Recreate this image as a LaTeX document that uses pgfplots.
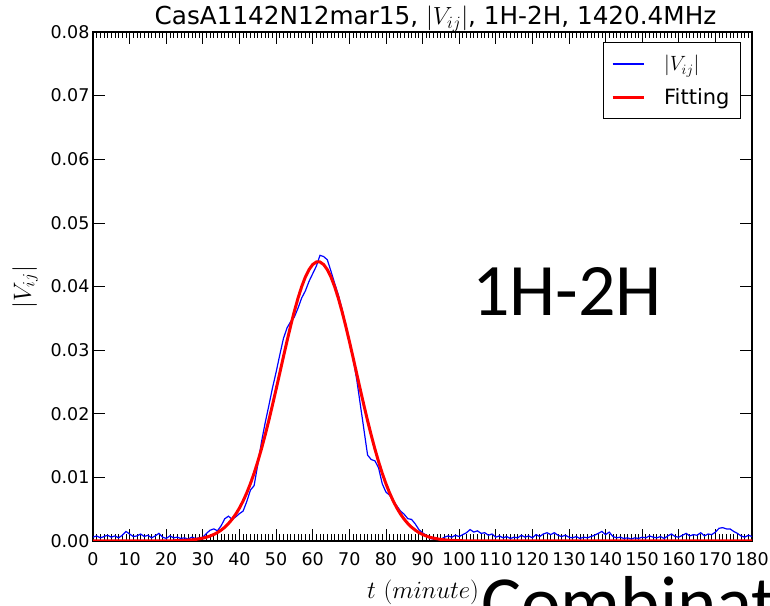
\documentclass[border=0pt]{standalone}
\usepackage{pgfplots}
\pgfplotsset{compat=1.18}
\usepackage{fontspec}
\setmainfont{DejaVu Sans}
\newfontfamily\calibri{Carlito}
\begin{document}
\begin{tikzpicture}[x=1bp,y=1bp]
\useasboundingbox (0,0) rectangle (770,606);
\clip (0,0) rectangle (770,606);
\begin{axis}[
  at={(93bp,65bp)}, anchor=south west,
  scale only axis, width=659bp, height=509bp,
  xmin=0, xmax=180, ymin=0, ymax=0.08,
  xtick={0,10,...,180}, ytick={0,0.01,...,0.08},
  minor x tick num=9,
  scaled y ticks=false,
  tick align=inside,
  major tick length=12bp, minor tick length=6.5bp,
  every tick/.style={black, line width=0.7bp},
  axis line style={black, line width=1.3bp},
  /pgf/number format/assume math mode=true,
  tick label style={font=\fontsize{17.5bp}{20bp}\selectfont},
  yticklabel style={/pgf/number format/.cd, fixed, fixed zerofill, precision=2},
  xticklabel style={yshift=-8bp, /pgf/number format/.cd, fixed, precision=0},
  legend style={at={(rel axis cs:1,1)}, anchor=north east, xshift=-11bp, yshift=-10bp,
    draw=black, line width=1bp, font=\fontsize{21bp}{25bp}\selectfont,
    inner xsep=8bp, inner ysep=10bp, row sep=10bp, column sep=16bp,
    nodes={inner sep=3bp}, cells={anchor=west}},
  legend image code/.code={\draw[#1] (0bp,0bp) -- (31bp,0bp);},
]
\addplot[blue, line width=1.2bp] table {
x y
0 0.0006
1 0.0008
2 0.0005
3 0.0007
4 0.0009
5 0.0006
6 0.0008
7 0.0005
8 0.0009
9 0.0015
10 0.0011
11 0.0007
12 0.0008
13 0.0011
14 0.0007
15 0.0009
16 0.0005
17 0.0008
18 0.0012
19 0.0006
20 0.0004
21 0.0008
22 0.0005
23 0.0006
24 0.0004
25 0.0005
26 0.0003
27 0.0006
28 0.0004
29 0.0005
30 0.0006
31 0.0012
32 0.0017
33 0.0019
34 0.0016
35 0.0024
36 0.0035
37 0.0039
38 0.0034
39 0.0038
40 0.0043
41 0.0047
42 0.0062
43 0.0080
44 0.0087
45 0.0120
46 0.0155
47 0.0185
48 0.0212
49 0.0240
50 0.0265
51 0.0292
52 0.0318
53 0.0335
54 0.0345
55 0.0352
56 0.0366
57 0.0382
58 0.0393
59 0.0408
60 0.0420
61 0.0432
62 0.0449
63 0.0447
64 0.0442
65 0.0424
66 0.0405
67 0.0387
68 0.0365
69 0.0340
70 0.0315
71 0.0288
72 0.0255
73 0.0215
74 0.0175
75 0.0135
76 0.0128
77 0.0126
78 0.0115
79 0.0090
80 0.0077
81 0.0072
82 0.0063
83 0.0055
84 0.0047
85 0.0042
86 0.0035
87 0.0034
88 0.0027
89 0.0018
90 0.0013
91 0.0009
92 0.0004
93 0.0003
94 0.0004
95 0.0003
96 0.0006
97 0.0008
98 0.0006
99 0.0009
100 0.0007
101 0.0010
102 0.0013
103 0.0018
104 0.0014
105 0.0016
106 0.0012
107 0.0013
108 0.0009
109 0.0011
110 0.0006
111 0.0008
112 0.0005
113 0.0007
114 0.0004
115 0.0006
116 0.0005
117 0.0009
118 0.0006
119 0.0008
120 0.0005
121 0.0010
122 0.0007
123 0.0011
124 0.0013
125 0.0010
126 0.0013
127 0.0009
128 0.0007
129 0.0009
130 0.0006
131 0.0005
132 0.0007
133 0.0004
134 0.0006
135 0.0005
136 0.0007
137 0.0009
138 0.0012
139 0.0015
140 0.0010
141 0.0014
142 0.0007
143 0.0005
144 0.0006
145 0.0004
146 0.0005
147 0.0003
148 0.0005
149 0.0004
150 0.0006
151 0.0005
152 0.0008
153 0.0006
154 0.0005
155 0.0007
156 0.0004
157 0.0008
158 0.0011
159 0.0007
160 0.0006
161 0.0009
162 0.0012
163 0.0008
164 0.0010
165 0.0009
166 0.0013
167 0.0008
168 0.0011
169 0.0010
170 0.0014
171 0.0020
172 0.0021
173 0.0019
174 0.0019
175 0.0015
176 0.0012
177 0.0008
178 0.0006
179 0.0009
180 0.0007
};
\addlegendentry{$|V_{ij}|$}
\addplot[red, line width=3bp] table {
x y
0 0
20 0
24 0.00007
26 0.00013
28 0.00024
30 0.00045
31 0.00059
32 0.00079
33 0.00103
34 0.00133
35 0.00171
36 0.00217
37 0.00274
38 0.00342
39 0.00423
40 0.00518
41 0.00629
42 0.00757
43 0.00902
44 0.01065
45 0.01247
46 0.01446
47 0.01661
48 0.01890
49 0.02132
50 0.02382
51 0.02637
52 0.02893
53 0.03144
54 0.03385
55 0.03611
56 0.03817
57 0.03998
58 0.04149
59 0.04265
60 0.04345
61 0.04385
62 0.04385
63 0.04345
64 0.04265
65 0.04149
66 0.03998
67 0.03817
68 0.03611
69 0.03385
70 0.03144
71 0.02893
72 0.02637
73 0.02382
74 0.02132
75 0.01890
76 0.01661
77 0.01446
78 0.01247
79 0.01065
80 0.00902
81 0.00757
82 0.00629
83 0.00518
84 0.00423
85 0.00342
86 0.00274
87 0.00217
88 0.00171
89 0.00133
90 0.00103
91 0.00079
92 0.00059
93 0.00045
95 0.00024
97 0.00013
99 0.00007
103 0
180 0
};
\addlegendentry{Fitting}
\end{axis}
\node[anchor=base, inner sep=0pt, font=\fontsize{24.7bp}{28bp}\selectfont] at (435.5,581) {CasA1142N12mar15, $|V_{ij}|$, 1H-2H, 1420.4MHz};
\node[anchor=center, inner sep=0pt, font=\fontsize{24bp}{28bp}\selectfont] at (423,14) {$t\ (minute)$};
\node[anchor=center, inner sep=0pt, rotate=90, font=\fontsize{24bp}{28bp}\selectfont] at (25,319) {$|V_{ij}|$};
\node[anchor=base west, inner sep=0pt, font=\calibri\fontsize{74bp}{80bp}\selectfont] at (472,290) {1H-2H};
\node[anchor=base west, inner sep=0pt, font=\calibri\fontsize{75bp}{80bp}\selectfont] at (481,-23) {Combination};
\end{tikzpicture}
\end{document}
